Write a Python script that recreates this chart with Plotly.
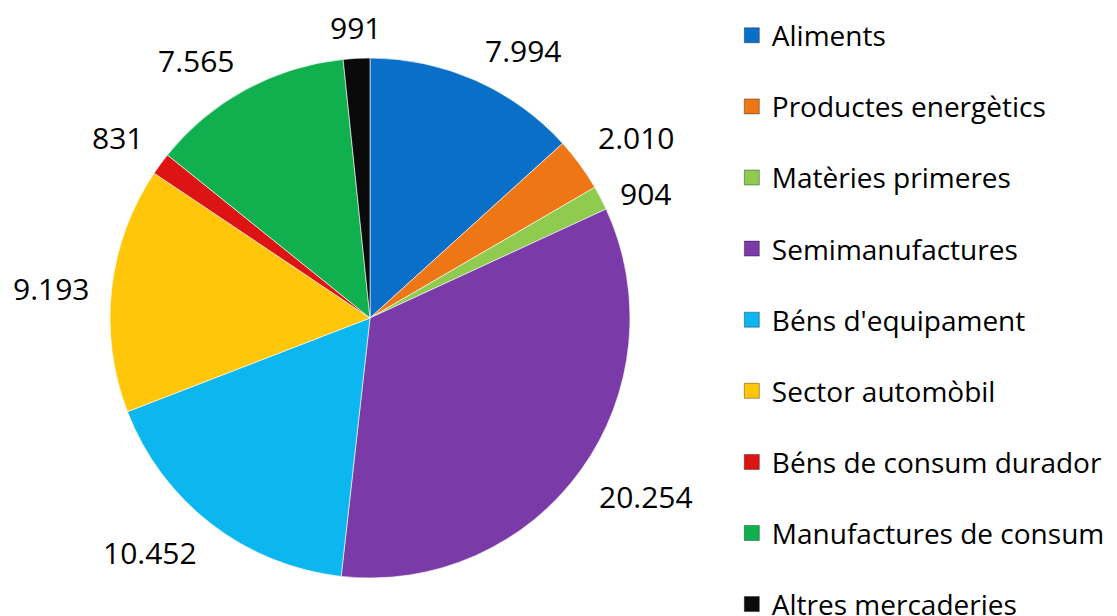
import math
import plotly.graph_objects as go

categories = ["Aliments", "Productes energètics", "Matèries primeres", "Semimanufactures",
              "Béns d'equipament", "Sector automòbil", "Béns de consum durador",
              "Manufactures de consum", "Altres mercaderies"]
values = [7994, 2010, 904, 20254, 10452, 9193, 831, 7565, 991]
colors = ["#0A6FC7", "#EE7615", "#8FCB4E", "#7A3AA8", "#0CB6EE",
          "#FFC60A", "#DD1414", "#10B04F", "#0A0A0A"]

FONT = "Open Sans"
W, H = 1117, 616
CX, CY, R = 362, 310, 260   # pie centre and radius in figure pixels (layout)
LABEL_GAP = 9

fig = go.Figure()
fig.add_trace(go.Pie(
    labels=categories, values=values, sort=False, direction="clockwise", rotation=0,
    marker=dict(colors=colors, line=dict(color="rgba(255,255,255,0.6)", width=1)),
    textposition="none", showlegend=False, hoverinfo="label+value",
    domain=dict(x=[(CX - R) / W, (CX + R) / W], y=[1 - (CY + R) / H, 1 - (CY - R) / H]),
))
for i, (c, col) in enumerate(zip(categories, colors)):
    fig.add_trace(go.Scatter(
        x=[None], y=[None], mode="markers", name=c, legendgroup=f"g{i}",
        marker=dict(symbol="square", size=15, color=col, line=dict(color="rgba(0,0,0,0.35)", width=1)),
        showlegend=True,
    ))

# outside-end data labels derived from the slice angles
total = sum(values)
cum = 0
annotations = []
for v in values:
    mid = (cum + v / 2) / total * 2 * math.pi
    cum += v
    s, c = math.sin(mid), math.cos(mid)
    px = CX + (R + LABEL_GAP) * s
    py = CY - (R + LABEL_GAP) * c
    xa = "center" if abs(s) < 0.3 else ("left" if s > 0 else "right")
    ya = "middle" if abs(c) < 0.5 else ("bottom" if c > 0 else "top")
    annotations.append(dict(
        x=px / W, y=1 - py / H, xref="paper", yref="paper",
        text=f"{v:,}".replace(",", "."), showarrow=False,
        xanchor=xa, yanchor=ya, xshift=12 * s, borderpad=0,
        font=dict(family=FONT, size=30, color="#000000"),
    ))

fig.update_layout(
    width=W, height=H,
    margin=dict(l=0, r=0, t=0, b=0),
    paper_bgcolor="white", plot_bgcolor="white",
    xaxis=dict(visible=False), yaxis=dict(visible=False),
    annotations=annotations,
    legend=dict(x=0.648, y=1.0, xanchor="left", yanchor="top", maxheight=900,
                title=dict(text=" ", font=dict(size=2)),
                font=dict(family=FONT, size=28, color="#000000"),
                tracegroupgap=31.7, itemwidth=30, bgcolor="rgba(0,0,0,0)"),
)
fig.write_html("out.html")
